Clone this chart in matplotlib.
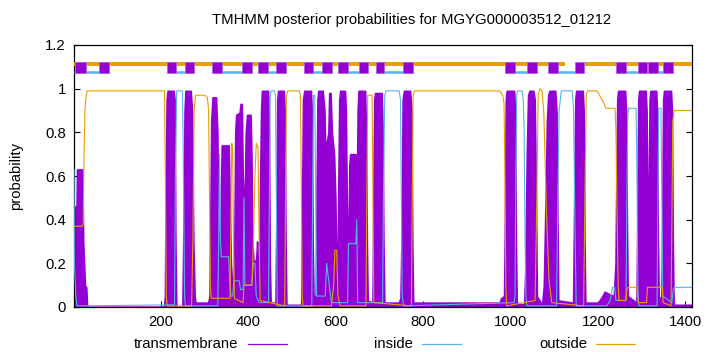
import matplotlib
matplotlib.use("Agg")
import matplotlib.pyplot as plt
from matplotlib.lines import Line2D
from matplotlib.patches import Rectangle

plt.rcParams['font.family'] = ['Liberation Sans', 'DejaVu Sans']

# ---------------- data ----------------
seq_len = 1415

tm_pos = [1, 2, 7, 8, 20, 22, 26, 29, 31,
          207, 209, 211, 213, 215, 229, 231, 233, 235,
          249, 251, 254, 256, 268, 271, 274, 277, 279, 308,
          311, 313, 315, 318, 326, 329, 331, 333, 335,
          337, 339, 355, 358, 360, 363, 366,
          368, 370, 372, 380, 382, 385, 387, 390,
          392, 394, 397, 405, 407, 409, 412, 418, 420, 422, 425,
          427, 429, 431, 445, 447, 449, 451, 462,
          464, 466, 468, 481, 483, 485, 487, 521,
          523, 525, 528, 543, 545, 547, 549, 554,
          556, 558, 560, 570, 574, 577,
          579, 583, 585, 588, 591, 596, 599, 601, 603,
          606, 608, 610, 621, 623, 625, 627, 629,
          631, 633, 645, 647, 648,
          650, 652, 667, 669, 671, 673, 684,
          686, 688, 690, 705, 707, 709, 711, 744, 748,
          751, 753, 756, 770, 773, 775, 777, 975, 978, 985,
          987, 989, 991, 1008, 1010, 1012, 1014, 1031,
          1034, 1037, 1040, 1043, 1052, 1055, 1058, 1060, 1072,
          1076, 1080, 1083, 1086, 1089, 1102, 1105, 1107, 1109, 1143,
          1145, 1148, 1150, 1165, 1167, 1169, 1171, 1200, 1210, 1215, 1225, 1236,
          1240, 1242, 1244, 1246, 1262, 1264, 1266, 1268, 1288,
          1290, 1292, 1294, 1309, 1311, 1313, 1315,
          1316, 1318, 1320, 1333, 1335, 1337, 1339, 1345,
          1347, 1349, 1351, 1367, 1369, 1371, 1373, 1415]
tm_val = [0.13, 0.46, 0.46, 0.63, 0.63, 0.30, 0.10, 0.09, 0.0,
          0.0, 0.05, 0.60, 0.95, 0.99, 0.99, 0.95, 0.30, 0.0,
          0.0, 0.30, 0.90, 0.99, 0.99, 0.90, 0.30, 0.05, 0.02, 0.02,
          0.05, 0.40, 0.85, 0.96, 0.96, 0.80, 0.40, 0.25, 0.25,
          0.50, 0.74, 0.74, 0.40, 0.20, 0.10, 0.08,
          0.30, 0.80, 0.88, 0.89, 0.93, 0.93, 0.60, 0.45,
          0.55, 0.80, 0.88, 0.88, 0.70, 0.30, 0.20, 0.22, 0.30, 0.20, 0.20,
          0.60, 0.90, 0.99, 0.99, 0.80, 0.20, 0.02, 0.02,
          0.40, 0.95, 0.99, 0.99, 0.90, 0.30, 0.01, 0.01,
          0.50, 0.95, 0.99, 0.99, 0.90, 0.30, 0.05, 0.05,
          0.50, 0.95, 0.99, 0.99, 0.90, 0.60,
          0.75, 0.80, 0.98, 0.98, 0.80, 0.70, 0.50, 0.20, 0.05,
          0.60, 0.95, 0.99, 0.99, 0.90, 0.50, 0.25, 0.30,
          0.65, 0.70, 0.70, 0.55, 0.50,
          0.90, 0.99, 0.99, 0.80, 0.30, 0.03, 0.02,
          0.50, 0.95, 0.98, 0.98, 0.80, 0.30, 0.02, 0.02, 0.04,
          0.40, 0.95, 0.99, 0.99, 0.90, 0.30, 0.02, 0.02, 0.04, 0.05,
          0.40, 0.95, 0.99, 0.99, 0.90, 0.30, 0.02, 0.01,
          0.20, 0.70, 0.97, 0.99, 0.99, 0.95, 0.50, 0.05, 0.01,
          0.10, 0.50, 0.85, 0.97, 0.99, 0.99, 0.90, 0.40, 0.03, 0.02,
          0.40, 0.95, 0.99, 0.99, 0.90, 0.30, 0.02, 0.02, 0.05, 0.07, 0.06, 0.05,
          0.20, 0.60, 0.95, 0.99, 0.99, 0.90, 0.40, 0.05, 0.02,
          0.40, 0.95, 0.99, 0.99, 0.90, 0.50, 0.30,
          0.50, 0.95, 0.99, 0.99, 0.90, 0.30, 0.03, 0.05,
          0.40, 0.95, 0.99, 0.99, 0.90, 0.30, 0.01, 0.01]

in_pos = [1, 2, 5, 8, 231, 233, 236, 249, 251, 254, 256,
          330, 332, 334, 336, 338, 355, 357, 360, 364, 367, 379, 382, 388, 390, 392, 395, 408, 411, 415, 418, 425,
          446, 448, 450, 452, 460, 462, 464, 466,
          545, 547, 549, 552, 554, 556, 576, 579, 590,
          627, 629, 646, 648, 650,
          707, 709, 712, 715, 745, 748, 750, 752, 755,
          1008, 1010, 1012, 1014, 1016, 1026, 1029, 1031, 1033, 1035, 1037,
          1105, 1108, 1111, 1116, 1141, 1144, 1147, 1150,
          1220, 1228, 1233, 1238, 1241, 1264, 1266, 1268, 1270, 1287, 1289, 1291, 1293,
          1335, 1337, 1339, 1344, 1346, 1348, 1369, 1372, 1375, 1415]
in_val = [0.63, 0.20, 0.05, 0.005, 0.01, 0.60, 0.99, 0.99, 0.70, 0.05, 0.005,
          0.005, 0.30, 0.70, 0.30, 0.23, 0.23, 0.12, 0.05, 0.05, 0.12, 0.12, 0.08, 0.08, 0.50, 0.10, 0.10, 0.10, 0.20, 0.20, 0.05, 0.02,
          0.02, 0.50, 0.97, 0.99, 0.99, 0.97, 0.50, 0.005,
          0.005, 0.50, 0.97, 0.97, 0.50, 0.05, 0.05, 0.20, 0.02,
          0.02, 0.29, 0.29, 0.40, 0.02,
          0.02, 0.50, 0.97, 0.99, 0.99, 0.95, 0.50, 0.05, 0.005,
          0.02, 0.05, 0.60, 0.97, 0.99, 0.99, 0.95, 0.80, 0.30, 0.05, 0.005,
          0.005, 0.50, 0.90, 0.99, 0.99, 0.90, 0.40, 0.005,
          0.005, 0.03, 0.09, 0.09, 0.03, 0.03, 0.50, 0.88, 0.91, 0.91, 0.60, 0.10, 0.005,
          0.005, 0.50, 0.91, 0.91, 0.50, 0.05, 0.02, 0.08, 0.09, 0.09]

out_pos = [1, 20, 22, 24, 26, 29, 31, 208, 210, 212, 214, 270, 273, 276, 279, 300, 306, 309, 311, 313, 315,
           358, 360, 362, 364, 366, 368, 388, 390, 408, 412, 415, 418, 422, 424, 427,
           483, 485, 487, 490, 517, 519, 521, 523, 525, 590, 595, 598, 602, 605, 610,
           669, 671, 673, 683, 685, 687, 773, 775, 777, 780, 975, 982, 985, 987, 989, 991,
           1056, 1060, 1063, 1067, 1072, 1076, 1082, 1088, 1094,
           1167, 1170, 1173, 1176, 1197, 1201, 1206, 1212, 1218, 1239, 1241, 1243, 1246, 1248,
           1264, 1266, 1269, 1289, 1292, 1311, 1313, 1347, 1349, 1367, 1369, 1371, 1374, 1415]
out_val = [0.37, 0.37, 0.38, 0.70, 0.90, 0.97, 0.99, 0.99, 0.60, 0.05, 0.005, 0.005, 0.30, 0.90, 0.97, 0.97, 0.96, 0.90, 0.50, 0.10, 0.04,
           0.04, 0.40, 0.75, 0.72, 0.30, 0.04, 0.02, 0.10, 0.10, 0.33, 0.60, 0.75, 0.73, 0.40, 0.03,
           0.005, 0.50, 0.97, 0.99, 0.99, 0.97, 0.60, 0.05, 0.005, 0.005, 0.10, 0.26, 0.26, 0.05, 0.005,
           0.005, 0.50, 0.97, 0.97, 0.50, 0.02, 0.005, 0.50, 0.97, 0.99, 0.99, 0.97, 0.93, 0.60, 0.10, 0.005,
           0.03, 0.50, 0.97, 1.00, 0.99, 0.89, 0.43, 0.12, 0.02,
           0.005, 0.50, 0.97, 0.99, 0.99, 0.98, 0.96, 0.94, 0.91, 0.91, 0.80, 0.50, 0.10, 0.03,
           0.03, 0.08, 0.09, 0.09, 0.02, 0.02, 0.09, 0.09, 0.02, 0.005, 0.40, 0.85, 0.90, 0.90]

# predicted topology (top bar)
tm_start = [3, 58, 214, 255, 317, 386, 423, 464, 528, 569, 606, 652, 691, 753,
            987, 1037, 1085, 1147, 1241, 1292, 1315, 1349]
tm_end = [28, 81, 235, 276, 340, 409, 446, 485, 548, 592, 627, 673, 711, 776,
          1010, 1060, 1108, 1168, 1264, 1312, 1338, 1372]
inside_start = [1, 28, 235, 340, 446, 548, 627, 711, 1010, 1108, 1264, 1338]
inside_end = [3, 58, 255, 386, 464, 569, 652, 753, 1037, 1147, 1292, 1349]
outside_start = [1, 1170]
outside_end = [1125, 1415]

xticks = [200, 400, 600, 800, 1000, 1200, 1400]
yticks = [0, 0.2, 0.4, 0.6, 0.8, 1.0, 1.2]
ytick_labels = ["0", "0.2", "0.4", "0.6", "0.8", "1", "1.2"]

title = "TMHMM posterior probabilities for MGYG000003512_01212"

# ---------------- style ----------------
C_TM = "#9400d3"
C_IN = "#56b4e9"
C_OUT = "#e69f00"
FS = 10.7

W, H = 720, 352
fig = plt.figure(figsize=(W / 100, H / 100), dpi=100)
L, R, T, B = 74, 692, 45, 307
ax = fig.add_axes([L / W, 1 - B / H, (R - L) / W, (B - T) / H])

ax.fill_between(tm_pos, tm_val, 0, color=C_TM, lw=1.2, zorder=2)
ax.plot(in_pos, in_val, color=C_IN, lw=0.8, zorder=3)
ax.plot(out_pos, out_val, color=C_OUT, lw=0.8, zorder=4)

# top bar
for s, e in zip(outside_start, outside_end):
    ax.plot([s, e], [1.113, 1.113], color=C_OUT, lw=2.8, solid_capstyle='butt', zorder=5)
for s, e in zip(inside_start, inside_end):
    ax.plot([s, e], [1.078, 1.078], color=C_IN, lw=1.8, solid_capstyle='butt', zorder=5)
for s, e in zip(tm_start, tm_end):
    ax.add_patch(Rectangle((s, 1.073), e - s, 0.047, facecolor=C_TM,
                           edgecolor='#b060e0', lw=0.6, zorder=6))

ax.set_xlim(1, seq_len)
ax.set_ylim(0, 1.2)
ax.set_xticks(xticks)
ax.set_xticklabels([str(t) for t in xticks])
ax.set_yticks(yticks)
ax.set_yticklabels(ytick_labels)
ax.tick_params(direction='in', length=4, width=0.8, labelsize=FS, colors='black',
               right=True, top=False, pad=6)
for sp in ax.spines.values():
    sp.set_linewidth(0.9)

ax.set_ylabel("probability", fontsize=FS, labelpad=16)
fig.text(412 / W, 1 - 20 / H, title, ha='center', va='center', fontsize=FS)

# legend (bottom row)
ly = 1 - 344 / H
items = [("transmembrane", 238, 248, 287, C_TM),
         ("inside", 413, 422, 461, C_IN),
         ("outside", 587, 596, 635, C_OUT)]
for label, tx, x0, x1, c in items:
    fig.text(tx / W, ly, label, ha='right', va='center', fontsize=FS)
    fig.add_artist(Line2D([x0 / W, x1 / W], [ly, ly], color=c, lw=0.9,
                          transform=fig.transFigure))

fig.savefig("out.png", dpi=100)
